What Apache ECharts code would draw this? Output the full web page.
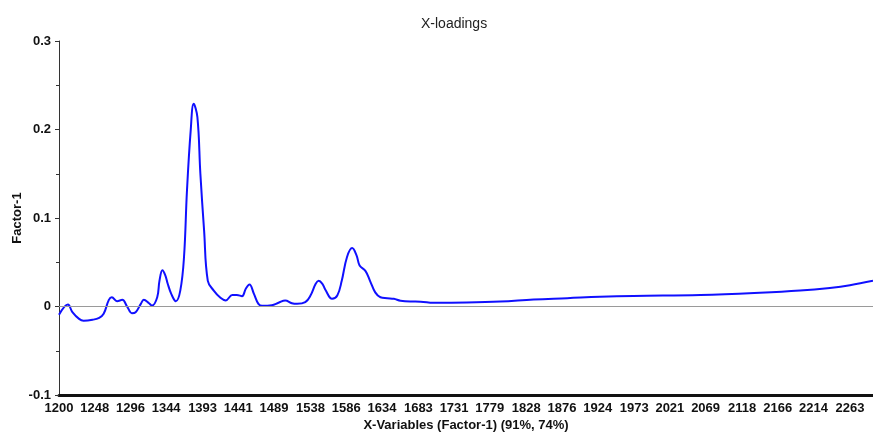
<!DOCTYPE html>
<html>
<head>
<meta charset="utf-8">
<script src="https://cdn.jsdelivr.net/npm/echarts@6/dist/echarts.min.js"></script>
<style>
  html, body { margin: 0; padding: 0; background: #fff; }
  #chart { width: 873px; height: 435px; }
</style>
</head>
<body>
<div id="chart"></div>
<script>
// X-variable positions (wavenumbers) of the loading profile
const wavenumbers = [1200,1212,1218,1227,1233,1245,1254,1260,1267,1271,1278,1285,1292,1298,1303,1310,1314,1321,1325,1332,1335,1339,1343,1346,1351,1357,1363,1368,1372,1377,1381,1386,1390,1395,1400,1408,1417,1424,1433,1439,1446,1451,1456,1462,1468,1473,1486,1495,1504,1513,1520,1531,1538,1545,1549,1554,1558,1567,1574,1580,1587,1594,1600,1604,1612,1618,1625,1632,1641,1650,1659,1672,1686,1703,1748,1793,1838,1883,1927,1972,2062,2142,2196,2236,2263,2294];

// Factor-1 loadings at those positions
const factor1 = [-0.0094,0.0023,-0.0064,-0.014,-0.016,-0.015,-0.0128,-0.0083,0.0075,0.0105,0.006,0.0075,-0.0008,-0.0075,-0.0064,0.003,0.0075,0.0037,0.001,0.0105,0.029,0.041,0.035,0.026,0.014,0.006,0.018,0.0557,0.131,0.199,0.229,0.214,0.150,0.086,0.029,0.018,0.0098,0.0068,0.013,0.013,0.0117,0.020,0.0249,0.0143,0.003,0.0008,0.0015,0.0042,0.0068,0.0037,0.003,0.0049,0.0124,0.0256,0.029,0.0256,0.019,0.0087,0.0124,0.029,0.0557,0.066,0.0576,0.0463,0.040,0.029,0.016,0.0105,0.0094,0.0087,0.0065,0.0056,0.0055,0.0042,0.0045,0.0056,0.0079,0.0094,0.011,0.012,0.013,0.0155,0.018,0.021,0.024,0.029];

// Labelled positions along the X-variable axis
const xTicks = [1200,1248,1296,1344,1393,1441,1489,1538,1586,1634,1683,1731,1779,1828,1876,1924,1973,2021,2069,2118,2166,2214,2263];

const points = wavenumbers.map((w, i) => [w, factor1[i]]);

const chart = echarts.init(document.getElementById('chart'), null, { renderer: 'canvas' });
const font = 'Liberation Sans, Arial, sans-serif';

chart.setOption({
  animation: false,
  backgroundColor: '#ffffff',
  title: {
    text: 'X-loadings',
    left: 416,
    top: 12,
    textStyle: { fontFamily: font, fontSize: 14, fontWeight: 'normal', color: '#222' }
  },
  grid: { left: 59, right: 0, top: 41, bottom: 40, containLabel: false, outerBoundsMode: 'none' },
  xAxis: {
    type: 'value',
    min: 1200,
    max: 2294,
    name: 'X-Variables (Factor-1) (91%, 74%)',
    nameLocation: 'middle',
    nameGap: 24,
    nameMoveOverlap: false,
    nameTextStyle: { fontFamily: font, fontSize: 13, fontWeight: 'bold', color: '#111' },
    axisLine: { show: true, onZero: false, lineStyle: { color: '#111', width: 3, type: [3, 1] } },
    axisTick: { show: false },
    splitLine: { show: false },
    axisLabel: {
      customValues: xTicks,
      formatter: v => String(v),
      margin: 7,
      fontFamily: font,
      fontSize: 13,
      fontWeight: 'bold',
      color: '#111'
    }
  },
  yAxis: {
    type: 'value',
    min: -0.1,
    max: 0.3,
    interval: 0.1,
    name: 'Factor-1',
    nameLocation: 'middle',
    nameGap: 35,
    nameMoveOverlap: false,
    nameRotate: 90,
    nameTextStyle: { fontFamily: font, fontSize: 13, fontWeight: 'bold', color: '#111' },
    axisLine: { show: true, lineStyle: { color: '#333', width: 1 } },
    axisTick: { show: true, length: 4, lineStyle: { color: '#333' } },
    minorTick: { show: true, splitNumber: 2, length: 3, lineStyle: { color: '#333' } },
    splitLine: { show: false },
    axisLabel: {
      margin: 8,
      formatter: v => String(Math.round(v * 10) / 10),
      fontFamily: font,
      fontSize: 13,
      fontWeight: 'bold',
      color: '#111'
    }
  },
  series: [{
    type: 'line',
    data: points,
    showSymbol: false,
    smooth: 0.4,
    lineStyle: { color: '#1010ff', width: 2 },
    markLine: {
      silent: true,
      symbol: 'none',
      label: { show: false },
      lineStyle: { color: '#9a9a9a', width: 1, type: 'solid' },
      data: [{ yAxis: 0 }]
    },
    z: 3
  }]
});
</script>
</body>
</html>
